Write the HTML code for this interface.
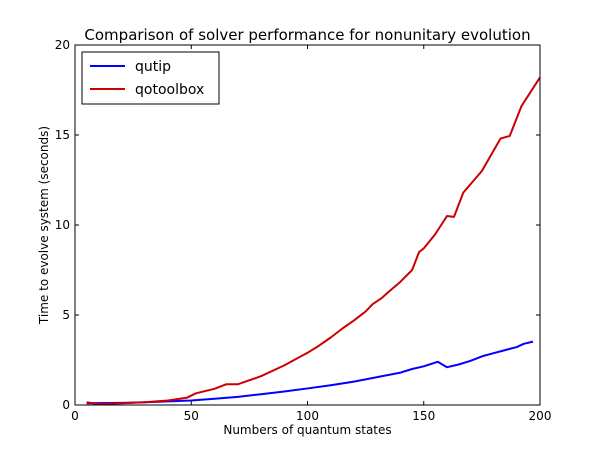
<!DOCTYPE html>
<html><head><meta charset="utf-8"><style>body{margin:0;background:#fff}svg{display:block}</style></head>
<body>
<svg width="600" height="450" xmlns="http://www.w3.org/2000/svg" font-family="DejaVu Sans, Liberation Sans, sans-serif">
<rect width="600" height="450" fill="#fff"/>
<g transform="translate(75,405) scale(2.325,-18)" fill="none" stroke-linejoin="round">
<polyline stroke="#0000ff" vector-effect="non-scaling-stroke" style="stroke-width:2" points="5,0.1 20,0.12 30,0.15 40,0.2 50,0.25 60,0.35 70,0.45 80,0.6 90,0.75 100,0.92 110,1.1 120,1.3 130,1.55 140,1.8 145,2.0 150,2.15 156,2.4 160,2.1 165,2.25 170,2.45 175,2.7 180,2.88 185,3.05 190,3.22 193,3.4 197,3.52"/>
<polyline stroke="#cc0000" vector-effect="non-scaling-stroke" style="stroke-width:2" points="5,0.15 10,0.05 20,0.1 30,0.15 40,0.25 48,0.4 52,0.65 60,0.9 65,1.15 70,1.15 80,1.6 90,2.2 100,2.9 105,3.3 110,3.75 115,4.25 120,4.7 125,5.2 128,5.6 132,5.95 135,6.3 140,6.85 145,7.5 148,8.5 150,8.7 155,9.5 160,10.5 163,10.45 167,11.8 175,13.0 183,14.8 187,14.95 192,16.6 200,18.2"/>
</g>
<rect x="75" y="45" width="465" height="360" fill="none" stroke="#000" stroke-width="1"/>
<g stroke="#000" stroke-width="1">
<path d="M75,405v-4M191.25,405v-4M307.5,405v-4M423.75,405v-4M540,405v-4M75,45v4M191.25,45v4M307.5,45v4M423.75,45v4M540,45v4"/>
<path d="M75,405h4M75,315h4M75,225h4M75,135h4M75,45h4M540,405h-4M540,315h-4M540,225h-4M540,135h-4M540,45h-4"/>
</g>
<g font-size="12" fill="#000" text-anchor="middle">
<text x="75" y="420">0</text><text x="191.25" y="420">50</text><text x="307.5" y="420">100</text><text x="423.75" y="420">150</text><text x="540" y="420">200</text>
</g>
<g font-size="12" fill="#000" text-anchor="end">
<text x="70" y="409">0</text><text x="70" y="319">5</text><text x="70" y="229">10</text><text x="70" y="139">15</text><text x="70" y="49">20</text>
</g>
<text x="307.5" y="434" font-size="12" text-anchor="middle">Numbers of quantum states</text>
<text x="48" y="225" font-size="12" text-anchor="middle" transform="rotate(-90 48 225)">Time to evolve system (seconds)</text>
<text x="307.5" y="40" font-size="15" text-anchor="middle">Comparison of solver performance for nonunitary evolution</text>
<rect x="82" y="52" width="137" height="52" fill="#fff" stroke="#000" stroke-width="1"/>
<line x1="90" y1="66" x2="125" y2="66" stroke="#0000ff" stroke-width="2"/>
<line x1="90" y1="89" x2="125" y2="89" stroke="#cc0000" stroke-width="2"/>
<text x="135" y="71" font-size="14">qutip</text>
<text x="135" y="94" font-size="14">qotoolbox</text>
</svg>
</body></html>
